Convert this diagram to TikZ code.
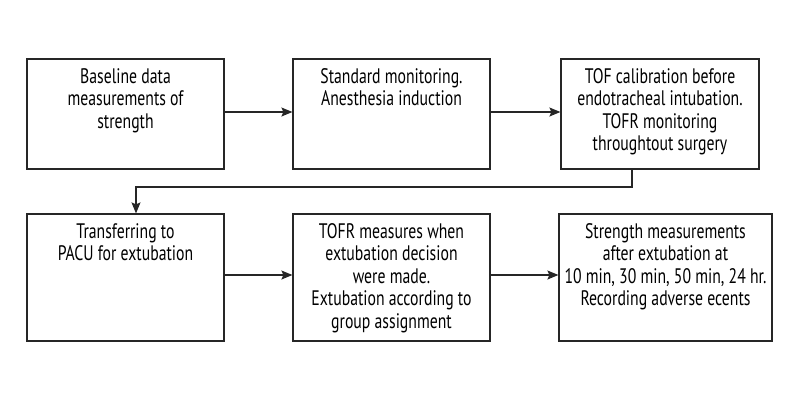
\documentclass[tikz,border=0pt]{standalone}
\usepackage{fontspec}
\setmainfont[FakeStretch=0.75]{PT Sans}
\usetikzlibrary{arrows.meta, positioning, calc}

\tikzset{
  stepbox/.style={draw=black!85, line width=1.2pt, inner sep=0pt, fill=white, font=\fontsize{21}{22.6}\selectfont},
  flow/.style={-{Stealth[length=11pt, width=9pt, inset=2pt]}, line width=1.2pt, draw=black!85},
}
% box text: width, height, lines
\newcommand{\boxtext}[3]{\parbox[t][#2][t]{#1}{\centering\rule{0pt}{24pt}#3}}

\begin{document}
\begin{tikzpicture}[x=1pt, y=-1pt]
        \useasboundingbox (0,0) rectangle (800,400);

        % first row
        \node[stepbox] (base) at (125.5, 114) {\boxtext{197pt}{110pt}{Baseline data\\measurements of\\strength}};
        \node[stepbox] (induct) at (391.5, 114) {\boxtext{197pt}{110pt}{Standard monitoring.\\Anesthesia induction}};
        \node[stepbox] (tof) at (660, 114) {\boxtext{198pt}{110pt}{TOF calibration before\\endotracheal intubation.\\TOFR monitoring\\throughtout surgery}};

        % second row
        \node[stepbox] (pacu) at (125.5, 277.5) {\boxtext{197pt}{127pt}{Transferring to\\PACU for extubation}};
        \node[stepbox] (tofr) at (391.5, 277.5) {\boxtext{197pt}{127pt}{TOFR measures when\\extubation decision\\were made.\\Extubation according to\\group assignment}};
        \node[stepbox] (strength) at (665.5, 277.5) {\boxtext{213pt}{127pt}{Strength measurements\\after extubation at\\10 min, 30 min, 50 min, 24 hr.\\Recording adverse ecents}};

        % arrows
        \coordinate (turn) at (136, 187);
        \draw[flow] ([yshift=2pt]base.east) -- ([yshift=2pt]induct.west);
        \draw[flow] ([yshift=2pt]induct.east) -- ([yshift=2pt]tof.west);
        \draw[flow] ([xshift=-28pt]tof.south) |- (turn) -- (turn |- pacu.north);
        \draw[flow] ([yshift=2.5pt]pacu.east) -- ([yshift=2.5pt]tofr.west);
        \draw[flow] ([yshift=2.5pt]tofr.east) -- ([yshift=2.5pt]strength.west);
\end{tikzpicture}
\end{document}
